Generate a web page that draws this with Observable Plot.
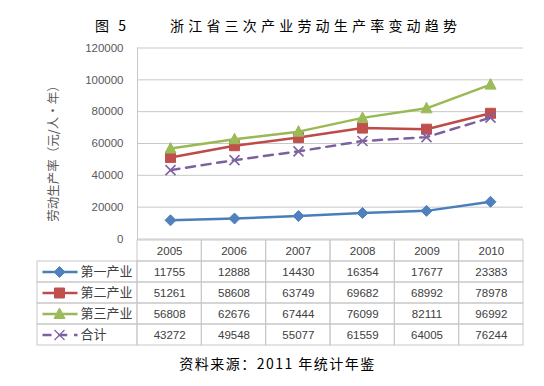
<!DOCTYPE html>
<html><head><meta charset="utf-8">
<script src="https://cdn.jsdelivr.net/npm/d3@7"></script>
<script src="https://cdn.jsdelivr.net/npm/@observablehq/plot@0.6"></script>
<style>
html,body{margin:0;padding:0;background:#fff;}
#wrap{position:relative;width:544px;height:386px;overflow:hidden;font-family:"Noto Sans CJK SC",sans-serif;color:#000;}
.abs{position:absolute;white-space:nowrap;line-height:1;}
#fig{left:95px;top:18px;font-size:14px;letter-spacing:3px;}
#title{left:170px;top:18px;font-size:14px;letter-spacing:4.2px;}
#caption{left:0;width:555px;text-align:center;top:356px;font-size:14px;letter-spacing:1.5px;}
#chart{position:absolute;left:0;top:0;}
#table{position:absolute;left:0;top:238px;}
</style></head><body>
<div id="wrap">
  <div class="abs" id="fig">图 5</div>
  <div class="abs" id="title">浙江省三次产业劳动生产率变动趋势</div>
  <div id="chart"></div>
  <div id="table"></div>
  <div class="abs" id="caption">资料来源：2011 年统计年鉴</div>
</div>
<script>
const years = ["2005","2006","2007","2008","2009","2010"];
const seriesNames = ["第一产业","第二产业","第三产业","合计"];
const primary   = [11755,12888,14430,16354,17677,23383];
const secondary = [51261,58608,63749,69682,68992,78978];
const tertiary  = [56808,62676,67444,76099,82111,96992];
const total     = [43272,49548,55077,61559,64005,76244];
const yTicks = [0,20000,40000,60000,80000,100000,120000];
const yLabel = "劳动生产率（元/人•年）";

const seriesValues = [primary, secondary, tertiary, total];
const lineColors = ["#4a7ebb","#be4b48","#98b954","#7d60a0"];
const markColors = ["#4f81bd","#c0504d","#9bbb59","#8064a2"];
const dashed = [false,false,false,true];

const sym = {
  diamond: {draw(c){const r=5.5;c.moveTo(0,-r);c.lineTo(r,0);c.lineTo(0,r);c.lineTo(-r,0);c.closePath();}},
  square: {draw(c){const r=5;c.rect(-r,-r,2*r,2*r);}},
  triangle: {draw(c){c.moveTo(0,-6);c.lineTo(5.5,4.5);c.lineTo(-5.5,4.5);c.closePath();}},
  cross: {draw(c){const r=5;c.moveTo(-r,-r);c.lineTo(r,r);c.moveTo(r,-r);c.lineTo(-r,r);}},
  keyLine: {draw(c){c.moveTo(-17,0);c.lineTo(18,0);}}
};
const symbols = [sym.diamond, sym.square, sym.triangle, sym.cross];

const data = seriesNames.flatMap((s,i)=>years.map((y,j)=>({series:s, idx:i, year:y, value:seriesValues[i][j]})));

const gridColor = "#c8c8c8";
const numFont = "'Liberation Sans', Arial, sans-serif";
const cjkFont = "'Noto Sans CJK SC', sans-serif";

// ---------- chart ----------
const chartMarks = [
  Plot.ruleY(yTicks, {stroke:gridColor, strokeWidth:1}),
  Plot.frame({anchor:"left", stroke:gridColor, strokeWidth:1}),
  Plot.text([yLabel], {text:d=>d, frameAnchor:"left", textAnchor:"middle", rotate:-90, dx:-84, dy:7, fontSize:12.5, fill:"#595959", fontFamily:cjkFont})
];
seriesNames.forEach((s,i)=>{
  const rows = data.filter(d=>d.idx===i);
  chartMarks.push(Plot.line(rows, {x:"year", y:"value", stroke:lineColors[i], strokeWidth:2.5,
    strokeDasharray: dashed[i] ? "9,6.75" : null, strokeLinejoin:"round"}));
  if (i===3) {
    chartMarks.push(Plot.dot(rows, {x:"year", y:"value", symbol:symbols[i], stroke:markColors[i], fill:"none", strokeWidth:1.6}));
  } else {
    chartMarks.push(Plot.dot(rows, {x:"year", y:"value", symbol:symbols[i], fill:markColors[i], stroke:markColors[i], strokeWidth:1}));
  }
});

const chart = Plot.plot({
  width:544, height:240,
  marginTop:47.5, marginBottom:1.5, marginLeft:137, marginRight:21,
  style:{background:"transparent", fontFamily:numFont, fontSize:"11.5px", color:"#595959", overflow:"visible"},
  x:{type:"band", domain:years, padding:0, axis:null},
  y:{domain:[0,120000], ticks:yTicks, tickSize:0, tickPadding:14, tickFormat:d=>String(d), label:null},
  marks:chartMarks
});
document.getElementById("chart").appendChild(chart);

// ---------- data table ----------
const rowsDomain = ["header", ...seriesNames];
const step = (544-137-21)/years.length;
const legendCols = 100/step;
const cells = [];
years.forEach((y,j)=>rowsDomain.forEach(r=>cells.push({x1:j, x2:j+1, row:r})));
seriesNames.forEach(s=>cells.push({x1:-legendCols, x2:0, row:s}));
const headerTexts = years.map((y,j)=>({x:j+0.5, row:"header", text:y}));
const valueTexts = data.map(d=>({x:years.indexOf(d.year)+0.5, row:d.series, text:String(d.value)}));

const tableMarks = [
  Plot.barX(cells, {x1:"x1", x2:"x2", y:"row", fill:"none", stroke:gridColor, strokeWidth:1}),
  Plot.text([...headerTexts, ...valueTexts], {x:"x", y:"row", text:"text", fill:"#404040", fontSize:11.5, fontFamily:numFont}),
  Plot.text(seriesNames, {y:d=>d, text:d=>d, frameAnchor:"left", dx:43, textAnchor:"start", fill:"#404040", fontSize:13, fontFamily:cjkFont})
];
seriesNames.forEach((s,i)=>{
  tableMarks.push(Plot.dot([s], {y:d=>d, frameAnchor:"left", dx:22, symbol:sym.keyLine, stroke:lineColors[i], strokeWidth:2.5,
    strokeDasharray: dashed[i] ? "9,6.75" : null}));
  if (i===3) {
    tableMarks.push(Plot.dot([s], {y:d=>d, frameAnchor:"left", dx:22, symbol:symbols[i], stroke:markColors[i], fill:"none", strokeWidth:1.2}));
  } else {
    tableMarks.push(Plot.dot([s], {y:d=>d, frameAnchor:"left", dx:22, symbol:symbols[i], fill:markColors[i], stroke:markColors[i], strokeWidth:1}));
  }
});

const table = Plot.plot({
  width:544, height:110,
  marginTop:0.5, marginBottom:1.5, marginLeft:37, marginRight:21,
  style:{background:"transparent", fontFamily:numFont, fontSize:"11.5px"},
  x:{domain:[-legendCols, years.length], axis:null},
  y:{type:"band", domain:rowsDomain, padding:0, axis:null},
  marks:tableMarks
});
document.getElementById("table").appendChild(table);
</script>
</body></html>
